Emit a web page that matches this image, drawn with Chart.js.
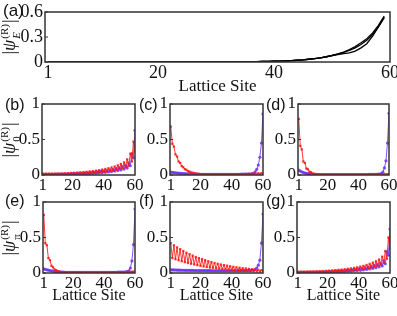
<!DOCTYPE html>
<html>
<head>
<meta charset="utf-8">
<script src="https://cdn.jsdelivr.net/npm/chart.js@4.4.0/dist/chart.umd.min.js"></script>
<style>
  body { margin: 0; background: #fff; }
  #fig { position: relative; width: 397px; height: 316px; overflow: hidden; }
  canvas { position: absolute; }
  .lab { position: absolute; font-family: 'Liberation Sans', Arial, sans-serif; font-size: 16px; line-height: 1; color: #111; }
  .yt { position: absolute; font-family: 'Liberation Serif', serif; font-size: 18px; line-height: 1; white-space: nowrap;
        transform: translate(-50%, -50%) rotate(-90deg); color: #111; }
  .ss { display: inline-flex; flex-direction: column; vertical-align: middle; font-size: 11px; line-height: 1.05; margin: 0 1px; }
</style>
</head>
<body>
<div id="fig">
  <canvas id="pa"></canvas>
  <canvas id="pb"></canvas>
  <canvas id="pc"></canvas>
  <canvas id="pd"></canvas>
  <canvas id="pe"></canvas>
  <canvas id="pf"></canvas>
  <canvas id="pg"></canvas>

  <div class="lab" style="left:3px;top:2px;font-size:17px">(a)</div>
  <div class="lab" style="left:5px;top:97px">(b)</div>
  <div class="lab" style="left:139px;top:97px">(c)</div>
  <div class="lab" style="left:266px;top:97px">(d)</div>
  <div class="lab" style="left:5px;top:193px">(e)</div>
  <div class="lab" style="left:139px;top:193px">(f)</div>
  <div class="lab" style="left:266px;top:193px">(g)</div>

  <div class="yt" style="left:11px;top:37px">|<i>ψ</i><span class="ss"><span>(R)</span><span><i>E</i></span></span>|</div>
  <div class="yt" style="left:11px;top:140px">|<i>ψ</i><span class="ss"><span>(R)</span><span>0</span></span>|</div>
  <div class="yt" style="left:11px;top:238px">|<i>ψ</i><span class="ss"><span>(R)</span><span>π</span></span>|</div>
</div>

<script>
// lattice sites and tick labels
const SITES = [1,2,3,4,5,6,7,8,9,10,11,12,13,14,15,16,17,18,19,20,
  21,22,23,24,25,26,27,28,29,30,31,32,33,34,35,36,37,38,39,40,
  41,42,43,44,45,46,47,48,49,50,51,52,53,54,55,56,57,58,59,60];
const X_TICKS = [1, 20, 40, 60];
const Y_TICKS_A = [0, 0.3, 0.6];
const Y_TICKS = [0, 0.5, 1];

// (a) |psi_E| curves, sites 1..59
const PSI_E1 = [0.002,0.002,0.002,0.002,0.002,0.002,0.002,0.002,0.002,0.002,
  0.002,0.002,0.002,0.002,0.002,0.002,0.002,0.002,0.002,0.002,
  0.002,0.002,0.002,0.002,0.002,0.002,0.002,0.002,0.002,0.003,
  0.003,0.003,0.003,0.004,0.004,0.004,0.005,0.006,0.007,0.009,
  0.011,0.014,0.017,0.021,0.026,0.033,0.04,0.05,0.063,0.078,
  0.097,0.12,0.15,0.185,0.23,0.28,0.35,0.44,0.55];
const PSI_E2 = [0.002,0.002,0.002,0.002,0.002,0.002,0.002,0.002,0.002,0.002,
  0.002,0.002,0.002,0.002,0.002,0.002,0.002,0.002,0.002,0.002,
  0.002,0.002,0.002,0.002,0.002,0.002,0.002,0.002,0.002,0.003,
  0.003,0.003,0.003,0.004,0.004,0.004,0.005,0.006,0.007,0.009,
  0.011,0.014,0.017,0.021,0.026,0.033,0.04,0.05,0.062,0.076,
  0.09,0.1,0.11,0.13,0.17,0.22,0.31,0.42,0.54];
const PSI_E3 = [0.002,0.002,0.002,0.002,0.002,0.002,0.002,0.002,0.002,0.002,
  0.002,0.002,0.002,0.002,0.002,0.002,0.002,0.002,0.002,0.002,
  0.002,0.002,0.002,0.002,0.002,0.002,0.002,0.002,0.002,0.003,
  0.003,0.003,0.003,0.004,0.004,0.004,0.005,0.006,0.007,0.009,
  0.011,0.014,0.017,0.021,0.026,0.033,0.04,0.05,0.063,0.078,
  0.095,0.115,0.14,0.17,0.21,0.26,0.33,0.42,0.53];

// (b) |psi_0|
const RED_B = [0.02,0.008,0.02,0.008,0.02,0.008,0.02,0.008,0.021,0.009,
  0.022,0.01,0.023,0.011,0.025,0.012,0.027,0.013,0.029,0.015,
  0.031,0.016,0.034,0.018,0.037,0.02,0.041,0.022,0.045,0.025,
  0.05,0.028,0.055,0.031,0.061,0.035,0.068,0.039,0.076,0.044,
  0.085,0.05,0.095,0.056,0.107,0.063,0.12,0.072,0.136,0.082,
  0.155,0.094,0.178,0.108,0.22,0.13,0.3,0.19,0.47,0.33];
const PURPLE_B = [0.005,0.01,0.005,0.01,0.005,0.01,0.005,0.01,0.006,0.011,
  0.006,0.012,0.007,0.013,0.008,0.014,0.009,0.016,0.01,0.018,
  0.011,0.02,0.012,0.022,0.014,0.025,0.016,0.028,0.018,0.031,
  0.02,0.035,0.023,0.039,0.026,0.044,0.029,0.05,0.033,0.056,
  0.037,0.063,0.042,0.071,0.048,0.08,0.055,0.091,0.063,0.103,
  0.072,0.118,0.083,0.136,0.097,0.17,0.13,0.3,0.24,0.63];

// (c)
const RED_C = [0.68,0.44,0.40,0.29,0.26,0.19,0.17,0.125,0.11,0.082,
  0.073,0.054,0.048,0.036,0.032,0.024,0.021,0.016,0.014,0.011,
  0.01,0.008,0.008,0.007,0.007,0.006,0.006,0.006,0.006,0.006,
  0.006,0.006,0.006,0.006,0.006,0.006,0.006,0.006,0.007,0.007,
  0.007,0.008,0.008,0.009,0.01,0.008,0.012,0.008,0.015,0.008,
  0.018,0.008,0.02,0.008,0.022,0.008,0.024,0.009,0.025,0.01];
const PURPLE_C = [0.04,0.037,0.034,0.031,0.028,0.026,0.024,0.022,0.02,0.018,
  0.017,0.016,0.015,0.014,0.013,0.012,0.012,0.011,0.011,0.01,
  0.01,0.01,0.01,0.01,0.01,0.01,0.01,0.01,0.01,0.01,
  0.01,0.01,0.01,0.01,0.01,0.01,0.01,0.01,0.01,0.01,
  0.01,0.01,0.01,0.01,0.01,0.011,0.011,0.012,0.012,0.013,
  0.013,0.014,0.016,0.025,0.045,0.08,0.14,0.25,0.45,0.86];

// (d)
const RED_D = [0.79,0.41,0.36,0.19,0.17,0.09,0.08,0.045,0.038,0.022,
  0.018,0.011,0.009,0.006,0.005,0.004,0.004,0.003,0.003,0.003,
  0.003,0.003,0.003,0.003,0.003,0.003,0.003,0.003,0.003,0.003,
  0.003,0.003,0.003,0.003,0.003,0.003,0.003,0.003,0.003,0.003,
  0.003,0.003,0.004,0.004,0.005,0.004,0.006,0.005,0.007,0.005,
  0.008,0.006,0.009,0.006,0.01,0.007,0.011,0.007,0.012,0.008];
const PURPLE_D = [0.07,0.055,0.045,0.035,0.028,0.022,0.018,0.015,0.012,0.01,
  0.009,0.008,0.008,0.007,0.007,0.007,0.007,0.007,0.007,0.007,
  0.007,0.007,0.007,0.007,0.007,0.007,0.007,0.007,0.007,0.007,
  0.007,0.007,0.007,0.007,0.007,0.007,0.007,0.007,0.007,0.007,
  0.007,0.007,0.007,0.007,0.007,0.007,0.008,0.008,0.008,0.009,
  0.009,0.01,0.011,0.013,0.02,0.04,0.1,0.2,0.45,0.87];

// (e) |psi_pi|
const RED_E = [0.82,0.42,0.39,0.21,0.18,0.1,0.08,0.05,0.04,0.025,
  0.02,0.014,0.011,0.008,0.006,0.005,0.005,0.004,0.004,0.004,
  0.004,0.004,0.004,0.004,0.004,0.004,0.004,0.004,0.004,0.004,
  0.004,0.004,0.004,0.004,0.004,0.004,0.004,0.004,0.004,0.004,
  0.005,0.005,0.006,0.006,0.007,0.007,0.008,0.008,0.009,0.009,
  0.01,0.011,0.012,0.013,0.014,0.015,0.016,0.017,0.018,0.02];
const PURPLE_E = [0.06,0.05,0.045,0.04,0.035,0.03,0.026,0.022,0.019,0.017,
  0.015,0.013,0.012,0.011,0.01,0.01,0.01,0.009,0.009,0.009,
  0.009,0.009,0.009,0.009,0.009,0.009,0.009,0.009,0.009,0.009,
  0.009,0.009,0.009,0.009,0.009,0.009,0.009,0.009,0.009,0.009,
  0.009,0.009,0.009,0.009,0.009,0.01,0.01,0.01,0.011,0.011,
  0.012,0.013,0.014,0.016,0.02,0.03,0.07,0.17,0.4,0.9];

// (f)
const RED_F = [0.42,0.21,0.39,0.194,0.36,0.18,0.335,0.166,0.31,0.153,
  0.285,0.141,0.265,0.13,0.245,0.12,0.225,0.11,0.21,0.1,
  0.195,0.092,0.18,0.085,0.165,0.078,0.153,0.072,0.141,0.066,
  0.13,0.061,0.12,0.056,0.111,0.052,0.103,0.048,0.095,0.044,
  0.087,0.04,0.08,0.037,0.074,0.034,0.068,0.031,0.063,0.029,
  0.058,0.026,0.053,0.024,0.048,0.022,0.044,0.02,0.04,0.018];
const PURPLE_F = [0.045,0.044,0.043,0.042,0.041,0.04,0.04,0.039,0.039,0.038,
  0.038,0.037,0.037,0.036,0.036,0.035,0.035,0.035,0.034,0.034,
  0.034,0.034,0.033,0.033,0.033,0.033,0.033,0.032,0.032,0.032,
  0.032,0.032,0.032,0.032,0.032,0.032,0.032,0.032,0.032,0.032,
  0.032,0.032,0.032,0.032,0.033,0.033,0.033,0.034,0.034,0.035,
  0.036,0.037,0.039,0.042,0.05,0.07,0.11,0.18,0.42,0.83];

// (g)
const RED_G = [0.02,0.008,0.02,0.008,0.02,0.008,0.021,0.009,0.022,0.009,
  0.023,0.01,0.024,0.011,0.026,0.012,0.028,0.013,0.03,0.015,
  0.033,0.017,0.036,0.019,0.04,0.021,0.044,0.024,0.048,0.027,
  0.053,0.03,0.059,0.034,0.065,0.038,0.072,0.042,0.08,0.047,
  0.09,0.053,0.1,0.06,0.113,0.068,0.128,0.077,0.145,0.088,
  0.165,0.1,0.19,0.116,0.23,0.14,0.31,0.2,0.5,0.34];
const PURPLE_G = [0.005,0.01,0.005,0.01,0.005,0.01,0.006,0.011,0.006,0.011,
  0.007,0.012,0.007,0.013,0.008,0.015,0.009,0.016,0.01,0.018,
  0.011,0.02,0.013,0.023,0.014,0.026,0.016,0.029,0.018,0.032,
  0.021,0.036,0.023,0.04,0.026,0.045,0.03,0.051,0.034,0.057,
  0.038,0.064,0.043,0.072,0.049,0.082,0.056,0.093,0.064,0.106,
  0.074,0.122,0.086,0.14,0.1,0.175,0.13,0.3,0.25,0.62];

Chart.defaults.font.family = "'Liberation Serif', 'Times New Roman', serif";
Chart.defaults.color = '#111';

const RED = 'rgba(255,20,20,0.85)';
const PURPLE = 'rgba(110,50,255,0.85)';

const YW = 34, PT = 9, PR = 12;

// frame around the plot area plus small inward ticks on the left axis
const boxPlugin = {
  id: 'box',
  afterDraw(chart) {
    const { ctx, chartArea: a, scales } = chart;
    ctx.save();
    ctx.strokeStyle = '#333';
    ctx.lineWidth = 1.5;
    ctx.strokeRect(a.left, a.top, a.right - a.left, a.bottom - a.top);
    ctx.lineWidth = 1;
    scales.y.ticks.forEach(t => {
      const y = scales.y.getPixelForValue(t.value);
      ctx.beginPath();
      ctx.moveTo(a.left, y);
      ctx.lineTo(a.left + 3, y);
      ctx.stroke();
    });
    ctx.restore();
  }
};

function series(vals, color, style) {
  return {
    data: vals.map((v, i) => ({ x: SITES[i], y: v })),
    borderColor: color,
    backgroundColor: color,
    borderWidth: 1,
    pointStyle: style,
    pointRadius: 1.6,
    pointBorderWidth: 0,
    tension: 0
  };
}

function blackLine(vals) {
  return {
    data: vals.map((v, i) => ({ x: SITES[i], y: v })),
    borderColor: '#000',
    borderWidth: 1.3,
    pointRadius: 0,
    tension: 0
  };
}

function makeChart(id, r, xh, yMax, yTicks, datasets, fs, titleSize) {
  const c = document.getElementById(id);
  c.width = r[2] - r[0] + YW + PR;
  c.height = r[3] - r[1] + PT + xh;
  c.style.left = (r[0] - YW) + 'px';
  c.style.top = (r[1] - PT) + 'px';
  return new Chart(c, {
    type: 'line',
    data: { datasets },
    options: {
      responsive: false,
      animation: false,
      devicePixelRatio: 1,
      layout: { padding: { left: 0, right: PR, top: PT, bottom: 0 } },
      plugins: { legend: { display: false }, tooltip: { enabled: false } },
      scales: {
        x: {
          type: 'linear', min: 0.5, max: 60,
          grid: { display: false, drawTicks: false },
          border: { display: false },
          afterBuildTicks: s => { s.ticks = X_TICKS.map(v => ({ value: v })); },
          afterFit: s => { s.height = xh; s.paddingLeft = 0; s.paddingRight = 0; },
          ticks: { font: { size: fs }, padding: 0, maxRotation: 0, autoSkip: false, callback: v => String(v) },
          title: { display: !!titleSize, text: 'Lattice Site', font: { size: titleSize || 12 }, padding: 0 }
        },
        y: {
          min: 0, max: yMax,
          grid: { display: false, drawTicks: false },
          border: { display: false },
          afterBuildTicks: s => { s.ticks = yTicks.map(v => ({ value: v })); },
          afterFit: s => { s.width = YW; s.paddingTop = 0; s.paddingBottom = 0; },
          ticks: { font: { size: fs }, padding: 2, callback: v => String(v) }
        }
      }
    },
    plugins: [boxPlugin]
  });
}

makeChart('pa', [45, 12, 390, 62], 35, 0.6, Y_TICKS_A,
  [blackLine(PSI_E1), blackLine(PSI_E2), blackLine(PSI_E3)], 18, 17);

makeChart('pb', [42, 104, 135, 175], 22, 1, Y_TICKS,
  [series(RED_B, RED, 'rect'), series(PURPLE_B, PURPLE, 'circle')], 17);
makeChart('pc', [170, 104, 263, 175], 22, 1, Y_TICKS,
  [series(RED_C, RED, 'rect'), series(PURPLE_C, PURPLE, 'circle')], 17);
makeChart('pd', [298, 104, 389, 175], 22, 1, Y_TICKS,
  [series(RED_D, RED, 'rect'), series(PURPLE_D, PURPLE, 'circle')], 17);

makeChart('pe', [43, 202, 135, 273], 32, 1, Y_TICKS,
  [series(RED_E, RED, 'rect'), series(PURPLE_E, PURPLE, 'circle')], 17, 16);
makeChart('pf', [170, 202, 263, 273], 32, 1, Y_TICKS,
  [series(RED_F, RED, 'rect'), series(PURPLE_F, PURPLE, 'circle')], 17, 16);
makeChart('pg', [297, 202, 390, 273], 32, 1, Y_TICKS,
  [series(RED_G, RED, 'rect'), series(PURPLE_G, PURPLE, 'circle')], 17, 16);
</script>
</body>
</html>
